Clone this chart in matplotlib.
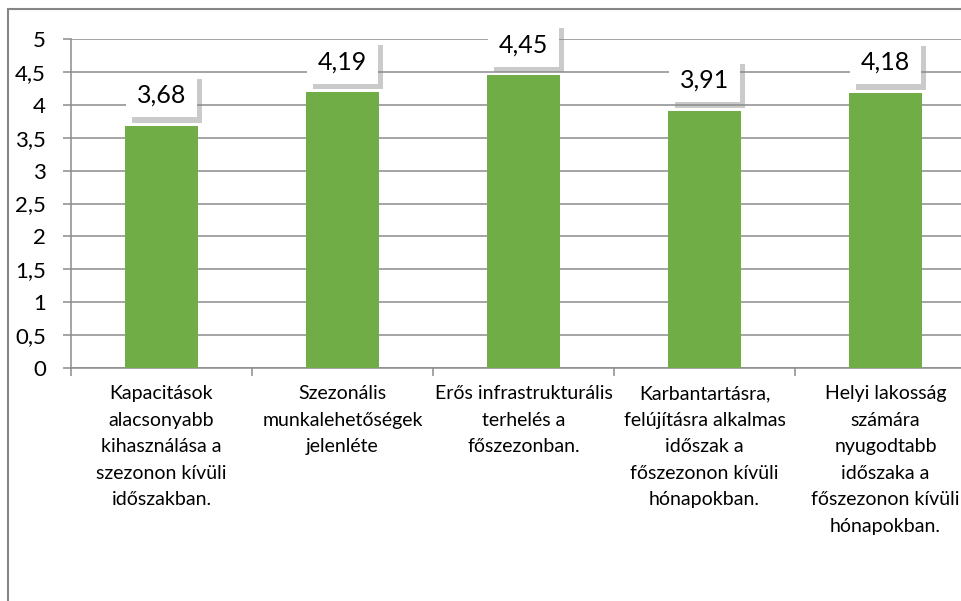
import matplotlib.pyplot as plt
import matplotlib.patheffects as pe
from matplotlib.patches import Rectangle
from matplotlib.transforms import blended_transform_factory
import numpy as np

categories = [
    "Kapacitások\nalacsonyabb\nkihasználása a\nszezonon kívüli\nidőszakban.",
    "Szezonális\nmunkalehetőségek\njelenléte",
    "Erős infrastrukturális\nterhelés a\nfőszezonban.",
    "Karbantartásra,\nfelújításra alkalmas\nidőszak a\nfőszezonon kívüli\nhónapokban.",
    "Helyi lakosság\nszámára\nnyugodtabb\nidőszaka a\nfőszezonon kívüli\nhónapokban.",
]
values = [3.68, 4.19, 4.45, 3.91, 4.18]
y_ticks = [0, 0.5, 1, 1.5, 2, 2.5, 3, 3.5, 4, 4.5, 5]

plt.rcParams["font.family"] = ["Lato", "DejaVu Sans"]

fig = plt.figure(figsize=(9.61, 6.01), dpi=100)
ax = fig.add_axes([71 / 961, 233 / 601, 905 / 961, 329 / 601])

x = np.arange(len(values))
ax.bar(x, values, width=0.40, color="#70AD47", zorder=3)

ax.set_xlim(-0.5, len(values) - 0.5)
ax.set_ylim(0, 5)
ax.set_yticks(y_ticks)
ax.set_yticklabels([f"{t:g}".replace(".", ",") for t in y_ticks], fontsize=16)
ax.grid(axis="y", color="#8c8c8c", linewidth=1.1, zorder=0)
ax.set_axisbelow(True)

ax.set_xticks(np.arange(len(values) + 1) - 0.5)
ax.set_xticklabels([])
ax.tick_params(axis="x", length=6, color="#8c8c8c", width=1.1)
ax.tick_params(axis="y", length=6, color="#8c8c8c", width=1.1, pad=12)

trans = blended_transform_factory(ax.transData, ax.transAxes)
for xi, label in zip(x, categories):
    ax.text(xi, -0.052, label, transform=trans, ha="center", va="top",
            fontsize=14, linespacing=1.68)

for side in ["top", "right"]:
    ax.spines[side].set_visible(False)
for side in ["left", "bottom"]:
    ax.spines[side].set_color("#8c8c8c")
    ax.spines[side].set_linewidth(1.1)

for xi, v in zip(x, values):
    t = ax.annotate(
        f"{v:.2f}".replace(".", ","),
        xy=(xi, v),
        xytext=(0, 22),
        textcoords="offset points",
        ha="center",
        va="center",
        fontsize=18,
        zorder=5,
        bbox=dict(boxstyle="square,pad=0.42", facecolor="white", edgecolor="none"),
    )
    t.get_bbox_patch().set_path_effects(
        [pe.SimplePatchShadow(offset=(4, -4), shadow_rgbFace="#8a8a8a", alpha=0.45), pe.Normal()]
    )

fig.patches.append(
    Rectangle(
        (8 / 961, -0.1),
        1.2,
        1 - 9 / 601 + 0.1,
        transform=fig.transFigure,
        fill=False,
        edgecolor="#868686",
        linewidth=1.5,
    )
)

fig.savefig("out.png", dpi=100)
